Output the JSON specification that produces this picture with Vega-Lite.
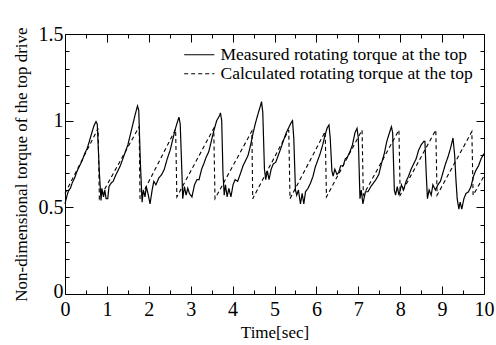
{
  "$schema": "https://vega.github.io/schema/vega-lite/v6.json",
  "width": 419,
  "height": 260,
  "autosize": "none",
  "padding": {"left": 65, "top": 34, "right": 12, "bottom": 51},
  "config": {
    "view": {"stroke": "#000", "strokeWidth": 1},
    "font": "Liberation Serif",
    "axis": {"grid": false, "domain": false, "tickColor": "#000", "labelColor": "#000", "titleColor": "#000", "labelFont": "Liberation Serif", "titleFont": "Liberation Serif", "titleFontWeight": "normal", "labelFontSize": 20, "titleFontSize": 17},
    "legend": {"labelFont": "Liberation Serif", "labelColor": "#000"}
  },
  "datasets": {
    "torque": [
      {"t": 0.00, "v": 0.52, "s": "Measured rotating torque at the top"},
      {"t": 0.05, "v": 0.57, "s": "Measured rotating torque at the top"},
      {"t": 0.09, "v": 0.60, "s": "Measured rotating torque at the top"},
      {"t": 0.13, "v": 0.61, "s": "Measured rotating torque at the top"},
      {"t": 0.17, "v": 0.64, "s": "Measured rotating torque at the top"},
      {"t": 0.23, "v": 0.67, "s": "Measured rotating torque at the top"},
      {"t": 0.29, "v": 0.71, "s": "Measured rotating torque at the top"},
      {"t": 0.35, "v": 0.74, "s": "Measured rotating torque at the top"},
      {"t": 0.41, "v": 0.77, "s": "Measured rotating torque at the top"},
      {"t": 0.47, "v": 0.81, "s": "Measured rotating torque at the top"},
      {"t": 0.53, "v": 0.84, "s": "Measured rotating torque at the top"},
      {"t": 0.58, "v": 0.88, "s": "Measured rotating torque at the top"},
      {"t": 0.64, "v": 0.93, "s": "Measured rotating torque at the top"},
      {"t": 0.69, "v": 0.97, "s": "Measured rotating torque at the top"},
      {"t": 0.74, "v": 0.995, "s": "Measured rotating torque at the top"},
      {"t": 0.77, "v": 0.98, "s": "Measured rotating torque at the top"},
      {"t": 0.82, "v": 0.70, "s": "Measured rotating torque at the top"},
      {"t": 0.86, "v": 0.54, "s": "Measured rotating torque at the top"},
      {"t": 0.88, "v": 0.61, "s": "Measured rotating torque at the top"},
      {"t": 0.92, "v": 0.56, "s": "Measured rotating torque at the top"},
      {"t": 0.95, "v": 0.60, "s": "Measured rotating torque at the top"},
      {"t": 0.98, "v": 0.55, "s": "Measured rotating torque at the top"},
      {"t": 1.02, "v": 0.55, "s": "Measured rotating torque at the top"},
      {"t": 1.05, "v": 0.62, "s": "Measured rotating torque at the top"},
      {"t": 1.10, "v": 0.64, "s": "Measured rotating torque at the top"},
      {"t": 1.15, "v": 0.65, "s": "Measured rotating torque at the top"},
      {"t": 1.20, "v": 0.68, "s": "Measured rotating torque at the top"},
      {"t": 1.26, "v": 0.71, "s": "Measured rotating torque at the top"},
      {"t": 1.32, "v": 0.74, "s": "Measured rotating torque at the top"},
      {"t": 1.38, "v": 0.78, "s": "Measured rotating torque at the top"},
      {"t": 1.44, "v": 0.82, "s": "Measured rotating torque at the top"},
      {"t": 1.50, "v": 0.86, "s": "Measured rotating torque at the top"},
      {"t": 1.56, "v": 0.92, "s": "Measured rotating torque at the top"},
      {"t": 1.62, "v": 0.98, "s": "Measured rotating torque at the top"},
      {"t": 1.68, "v": 1.04, "s": "Measured rotating torque at the top"},
      {"t": 1.73, "v": 1.085, "s": "Measured rotating torque at the top"},
      {"t": 1.76, "v": 1.06, "s": "Measured rotating torque at the top"},
      {"t": 1.80, "v": 0.75, "s": "Measured rotating torque at the top"},
      {"t": 1.84, "v": 0.53, "s": "Measured rotating torque at the top"},
      {"t": 1.87, "v": 0.60, "s": "Measured rotating torque at the top"},
      {"t": 1.91, "v": 0.56, "s": "Measured rotating torque at the top"},
      {"t": 1.94, "v": 0.62, "s": "Measured rotating torque at the top"},
      {"t": 1.98, "v": 0.58, "s": "Measured rotating torque at the top"},
      {"t": 2.03, "v": 0.52, "s": "Measured rotating torque at the top"},
      {"t": 2.08, "v": 0.60, "s": "Measured rotating torque at the top"},
      {"t": 2.12, "v": 0.65, "s": "Measured rotating torque at the top"},
      {"t": 2.17, "v": 0.63, "s": "Measured rotating torque at the top"},
      {"t": 2.24, "v": 0.67, "s": "Measured rotating torque at the top"},
      {"t": 2.31, "v": 0.69, "s": "Measured rotating torque at the top"},
      {"t": 2.37, "v": 0.72, "s": "Measured rotating torque at the top"},
      {"t": 2.44, "v": 0.78, "s": "Measured rotating torque at the top"},
      {"t": 2.51, "v": 0.83, "s": "Measured rotating torque at the top"},
      {"t": 2.57, "v": 0.89, "s": "Measured rotating torque at the top"},
      {"t": 2.63, "v": 0.95, "s": "Measured rotating torque at the top"},
      {"t": 2.68, "v": 0.99, "s": "Measured rotating torque at the top"},
      {"t": 2.72, "v": 1.02, "s": "Measured rotating torque at the top"},
      {"t": 2.75, "v": 0.98, "s": "Measured rotating torque at the top"},
      {"t": 2.79, "v": 0.70, "s": "Measured rotating torque at the top"},
      {"t": 2.81, "v": 0.55, "s": "Measured rotating torque at the top"},
      {"t": 2.85, "v": 0.62, "s": "Measured rotating torque at the top"},
      {"t": 2.89, "v": 0.57, "s": "Measured rotating torque at the top"},
      {"t": 2.93, "v": 0.61, "s": "Measured rotating torque at the top"},
      {"t": 2.97, "v": 0.58, "s": "Measured rotating torque at the top"},
      {"t": 3.03, "v": 0.56, "s": "Measured rotating torque at the top"},
      {"t": 3.09, "v": 0.63, "s": "Measured rotating torque at the top"},
      {"t": 3.15, "v": 0.66, "s": "Measured rotating torque at the top"},
      {"t": 3.20, "v": 0.66, "s": "Measured rotating torque at the top"},
      {"t": 3.26, "v": 0.72, "s": "Measured rotating torque at the top"},
      {"t": 3.31, "v": 0.75, "s": "Measured rotating torque at the top"},
      {"t": 3.37, "v": 0.79, "s": "Measured rotating torque at the top"},
      {"t": 3.43, "v": 0.82, "s": "Measured rotating torque at the top"},
      {"t": 3.49, "v": 0.88, "s": "Measured rotating torque at the top"},
      {"t": 3.55, "v": 0.94, "s": "Measured rotating torque at the top"},
      {"t": 3.62, "v": 1.00, "s": "Measured rotating torque at the top"},
      {"t": 3.69, "v": 1.03, "s": "Measured rotating torque at the top"},
      {"t": 3.71, "v": 1.045, "s": "Measured rotating torque at the top"},
      {"t": 3.74, "v": 1.00, "s": "Measured rotating torque at the top"},
      {"t": 3.77, "v": 0.70, "s": "Measured rotating torque at the top"},
      {"t": 3.80, "v": 0.57, "s": "Measured rotating torque at the top"},
      {"t": 3.83, "v": 0.63, "s": "Measured rotating torque at the top"},
      {"t": 3.87, "v": 0.56, "s": "Measured rotating torque at the top"},
      {"t": 3.91, "v": 0.61, "s": "Measured rotating torque at the top"},
      {"t": 3.96, "v": 0.56, "s": "Measured rotating torque at the top"},
      {"t": 4.01, "v": 0.63, "s": "Measured rotating torque at the top"},
      {"t": 4.06, "v": 0.66, "s": "Measured rotating torque at the top"},
      {"t": 4.12, "v": 0.65, "s": "Measured rotating torque at the top"},
      {"t": 4.18, "v": 0.69, "s": "Measured rotating torque at the top"},
      {"t": 4.25, "v": 0.74, "s": "Measured rotating torque at the top"},
      {"t": 4.31, "v": 0.77, "s": "Measured rotating torque at the top"},
      {"t": 4.37, "v": 0.80, "s": "Measured rotating torque at the top"},
      {"t": 4.43, "v": 0.86, "s": "Measured rotating torque at the top"},
      {"t": 4.49, "v": 0.93, "s": "Measured rotating torque at the top"},
      {"t": 4.55, "v": 0.99, "s": "Measured rotating torque at the top"},
      {"t": 4.62, "v": 1.05, "s": "Measured rotating torque at the top"},
      {"t": 4.67, "v": 1.09, "s": "Measured rotating torque at the top"},
      {"t": 4.69, "v": 1.11, "s": "Measured rotating torque at the top"},
      {"t": 4.72, "v": 1.05, "s": "Measured rotating torque at the top"},
      {"t": 4.76, "v": 0.72, "s": "Measured rotating torque at the top"},
      {"t": 4.79, "v": 0.66, "s": "Measured rotating torque at the top"},
      {"t": 4.83, "v": 0.71, "s": "Measured rotating torque at the top"},
      {"t": 4.87, "v": 0.66, "s": "Measured rotating torque at the top"},
      {"t": 4.92, "v": 0.72, "s": "Measured rotating torque at the top"},
      {"t": 4.97, "v": 0.75, "s": "Measured rotating torque at the top"},
      {"t": 5.03, "v": 0.76, "s": "Measured rotating torque at the top"},
      {"t": 5.09, "v": 0.80, "s": "Measured rotating torque at the top"},
      {"t": 5.15, "v": 0.84, "s": "Measured rotating torque at the top"},
      {"t": 5.22, "v": 0.89, "s": "Measured rotating torque at the top"},
      {"t": 5.28, "v": 0.93, "s": "Measured rotating torque at the top"},
      {"t": 5.34, "v": 0.96, "s": "Measured rotating torque at the top"},
      {"t": 5.40, "v": 0.99, "s": "Measured rotating torque at the top"},
      {"t": 5.43, "v": 1.00, "s": "Measured rotating torque at the top"},
      {"t": 5.46, "v": 0.90, "s": "Measured rotating torque at the top"},
      {"t": 5.50, "v": 0.60, "s": "Measured rotating torque at the top"},
      {"t": 5.53, "v": 0.57, "s": "Measured rotating torque at the top"},
      {"t": 5.57, "v": 0.60, "s": "Measured rotating torque at the top"},
      {"t": 5.62, "v": 0.52, "s": "Measured rotating torque at the top"},
      {"t": 5.66, "v": 0.58, "s": "Measured rotating torque at the top"},
      {"t": 5.70, "v": 0.52, "s": "Measured rotating torque at the top"},
      {"t": 5.74, "v": 0.59, "s": "Measured rotating torque at the top"},
      {"t": 5.80, "v": 0.61, "s": "Measured rotating torque at the top"},
      {"t": 5.86, "v": 0.64, "s": "Measured rotating torque at the top"},
      {"t": 5.92, "v": 0.68, "s": "Measured rotating torque at the top"},
      {"t": 5.97, "v": 0.73, "s": "Measured rotating torque at the top"},
      {"t": 6.03, "v": 0.77, "s": "Measured rotating torque at the top"},
      {"t": 6.09, "v": 0.81, "s": "Measured rotating torque at the top"},
      {"t": 6.15, "v": 0.86, "s": "Measured rotating torque at the top"},
      {"t": 6.21, "v": 0.92, "s": "Measured rotating torque at the top"},
      {"t": 6.26, "v": 0.96, "s": "Measured rotating torque at the top"},
      {"t": 6.30, "v": 0.975, "s": "Measured rotating torque at the top"},
      {"t": 6.33, "v": 0.90, "s": "Measured rotating torque at the top"},
      {"t": 6.37, "v": 0.71, "s": "Measured rotating torque at the top"},
      {"t": 6.40, "v": 0.68, "s": "Measured rotating torque at the top"},
      {"t": 6.44, "v": 0.72, "s": "Measured rotating torque at the top"},
      {"t": 6.49, "v": 0.69, "s": "Measured rotating torque at the top"},
      {"t": 6.53, "v": 0.70, "s": "Measured rotating torque at the top"},
      {"t": 6.58, "v": 0.74, "s": "Measured rotating torque at the top"},
      {"t": 6.64, "v": 0.74, "s": "Measured rotating torque at the top"},
      {"t": 6.69, "v": 0.78, "s": "Measured rotating torque at the top"},
      {"t": 6.74, "v": 0.79, "s": "Measured rotating torque at the top"},
      {"t": 6.80, "v": 0.82, "s": "Measured rotating torque at the top"},
      {"t": 6.86, "v": 0.86, "s": "Measured rotating torque at the top"},
      {"t": 6.92, "v": 0.93, "s": "Measured rotating torque at the top"},
      {"t": 6.97, "v": 0.956, "s": "Measured rotating torque at the top"},
      {"t": 7.00, "v": 0.90, "s": "Measured rotating torque at the top"},
      {"t": 7.04, "v": 0.55, "s": "Measured rotating torque at the top"},
      {"t": 7.07, "v": 0.60, "s": "Measured rotating torque at the top"},
      {"t": 7.11, "v": 0.52, "s": "Measured rotating torque at the top"},
      {"t": 7.17, "v": 0.59, "s": "Measured rotating torque at the top"},
      {"t": 7.23, "v": 0.59, "s": "Measured rotating torque at the top"},
      {"t": 7.30, "v": 0.62, "s": "Measured rotating torque at the top"},
      {"t": 7.36, "v": 0.64, "s": "Measured rotating torque at the top"},
      {"t": 7.42, "v": 0.66, "s": "Measured rotating torque at the top"},
      {"t": 7.49, "v": 0.69, "s": "Measured rotating torque at the top"},
      {"t": 7.55, "v": 0.75, "s": "Measured rotating torque at the top"},
      {"t": 7.62, "v": 0.81, "s": "Measured rotating torque at the top"},
      {"t": 7.68, "v": 0.88, "s": "Measured rotating torque at the top"},
      {"t": 7.73, "v": 0.92, "s": "Measured rotating torque at the top"},
      {"t": 7.79, "v": 0.965, "s": "Measured rotating torque at the top"},
      {"t": 7.82, "v": 0.93, "s": "Measured rotating torque at the top"},
      {"t": 7.86, "v": 0.60, "s": "Measured rotating torque at the top"},
      {"t": 7.89, "v": 0.57, "s": "Measured rotating torque at the top"},
      {"t": 7.93, "v": 0.62, "s": "Measured rotating torque at the top"},
      {"t": 7.97, "v": 0.57, "s": "Measured rotating torque at the top"},
      {"t": 8.03, "v": 0.63, "s": "Measured rotating torque at the top"},
      {"t": 8.08, "v": 0.60, "s": "Measured rotating torque at the top"},
      {"t": 8.14, "v": 0.65, "s": "Measured rotating torque at the top"},
      {"t": 8.20, "v": 0.68, "s": "Measured rotating torque at the top"},
      {"t": 8.26, "v": 0.72, "s": "Measured rotating torque at the top"},
      {"t": 8.32, "v": 0.75, "s": "Measured rotating torque at the top"},
      {"t": 8.38, "v": 0.78, "s": "Measured rotating torque at the top"},
      {"t": 8.44, "v": 0.83, "s": "Measured rotating torque at the top"},
      {"t": 8.50, "v": 0.86, "s": "Measured rotating torque at the top"},
      {"t": 8.56, "v": 0.88, "s": "Measured rotating torque at the top"},
      {"t": 8.59, "v": 0.88, "s": "Measured rotating torque at the top"},
      {"t": 8.62, "v": 0.70, "s": "Measured rotating torque at the top"},
      {"t": 8.65, "v": 0.55, "s": "Measured rotating torque at the top"},
      {"t": 8.69, "v": 0.60, "s": "Measured rotating torque at the top"},
      {"t": 8.74, "v": 0.57, "s": "Measured rotating torque at the top"},
      {"t": 8.78, "v": 0.63, "s": "Measured rotating torque at the top"},
      {"t": 8.84, "v": 0.60, "s": "Measured rotating torque at the top"},
      {"t": 8.90, "v": 0.63, "s": "Measured rotating torque at the top"},
      {"t": 8.96, "v": 0.65, "s": "Measured rotating torque at the top"},
      {"t": 9.02, "v": 0.70, "s": "Measured rotating torque at the top"},
      {"t": 9.08, "v": 0.75, "s": "Measured rotating torque at the top"},
      {"t": 9.14, "v": 0.79, "s": "Measured rotating torque at the top"},
      {"t": 9.20, "v": 0.84, "s": "Measured rotating torque at the top"},
      {"t": 9.26, "v": 0.90, "s": "Measured rotating torque at the top"},
      {"t": 9.30, "v": 0.80, "s": "Measured rotating torque at the top"},
      {"t": 9.33, "v": 0.66, "s": "Measured rotating torque at the top"},
      {"t": 9.36, "v": 0.55, "s": "Measured rotating torque at the top"},
      {"t": 9.40, "v": 0.49, "s": "Measured rotating torque at the top"},
      {"t": 9.43, "v": 0.53, "s": "Measured rotating torque at the top"},
      {"t": 9.47, "v": 0.49, "s": "Measured rotating torque at the top"},
      {"t": 9.52, "v": 0.55, "s": "Measured rotating torque at the top"},
      {"t": 9.57, "v": 0.58, "s": "Measured rotating torque at the top"},
      {"t": 9.63, "v": 0.59, "s": "Measured rotating torque at the top"},
      {"t": 9.69, "v": 0.62, "s": "Measured rotating torque at the top"},
      {"t": 9.75, "v": 0.68, "s": "Measured rotating torque at the top"},
      {"t": 9.80, "v": 0.71, "s": "Measured rotating torque at the top"},
      {"t": 9.87, "v": 0.74, "s": "Measured rotating torque at the top"},
      {"t": 9.93, "v": 0.78, "s": "Measured rotating torque at the top"},
      {"t": 10.0, "v": 0.81, "s": "Measured rotating torque at the top"},
      {"t": 0.00, "v": 0.58, "s": "Calculated rotating torque at the top"},
      {"t": 0.79, "v": 0.955, "s": "Calculated rotating torque at the top"},
      {"t": 0.82, "v": 0.55, "s": "Calculated rotating torque at the top"},
      {"t": 1.77, "v": 0.965, "s": "Calculated rotating torque at the top"},
      {"t": 1.79, "v": 0.55, "s": "Calculated rotating torque at the top"},
      {"t": 2.64, "v": 0.95, "s": "Calculated rotating torque at the top"},
      {"t": 2.67, "v": 0.56, "s": "Calculated rotating torque at the top"},
      {"t": 3.55, "v": 0.956, "s": "Calculated rotating torque at the top"},
      {"t": 3.58, "v": 0.55, "s": "Calculated rotating torque at the top"},
      {"t": 4.46, "v": 0.94, "s": "Calculated rotating torque at the top"},
      {"t": 4.48, "v": 0.55, "s": "Calculated rotating torque at the top"},
      {"t": 5.34, "v": 0.946, "s": "Calculated rotating torque at the top"},
      {"t": 5.37, "v": 0.55, "s": "Calculated rotating torque at the top"},
      {"t": 6.21, "v": 0.937, "s": "Calculated rotating torque at the top"},
      {"t": 6.24, "v": 0.56, "s": "Calculated rotating torque at the top"},
      {"t": 7.09, "v": 0.946, "s": "Calculated rotating torque at the top"},
      {"t": 7.12, "v": 0.57, "s": "Calculated rotating torque at the top"},
      {"t": 7.97, "v": 0.946, "s": "Calculated rotating torque at the top"},
      {"t": 8.00, "v": 0.57, "s": "Calculated rotating torque at the top"},
      {"t": 8.85, "v": 0.946, "s": "Calculated rotating torque at the top"},
      {"t": 8.88, "v": 0.57, "s": "Calculated rotating torque at the top"},
      {"t": 9.71, "v": 0.937, "s": "Calculated rotating torque at the top"},
      {"t": 9.74, "v": 0.57, "s": "Calculated rotating torque at the top"},
      {"t": 10.0, "v": 0.68, "s": "Calculated rotating torque at the top"}
    ]
  },
  "data": {"name": "torque"},
  "layer": [
    {
      "transform": [{"filter": "datum.s === 'Measured rotating torque at the top'"}],
      "mark": {"type": "line", "color": "#000", "strokeWidth": 1.2},
      "encoding": {
        "x": {"field": "t", "type": "quantitative", "scale": {"domain": [0, 10], "nice": false},
          "axis": {"orient": "bottom", "title": "Time[sec]", "titleFontWeight": "normal", "titleFontSize": 17, "values": [0,0.5,1,1.5,2,2.5,3,3.5,4,4.5,5,5.5,6,6.5,7,7.5,8,8.5,9,9.5,10],
            "tickSize": {"condition": {"test": "datum.value % 1 !== 0", "value": -4}, "value": -8},
            "labelExpr": "datum.value % 1 === 0 ? format(datum.value, '~g') : ''", "labelPadding": 13, "labelFlush": false, "labelOverlap": false, "titlePadding": 1}},
        "y": {"field": "v", "type": "quantitative", "scale": {"domain": [0, 1.5], "nice": false, "zero": false},
          "axis": {"orient": "left", "title": "Non-dimensional torque of the top drive", "titleFontWeight": "normal", "titleFontSize": 17, "values": [0,0.1,0.2,0.3,0.4,0.5,0.6,0.7,0.8,0.9,1,1.1,1.2,1.3,1.4,1.5],
            "tickSize": {"condition": {"test": "(datum.value * 2) % 1 !== 0", "value": -4}, "value": -8},
            "labelOffset": {"condition": {"test": "datum.value === 0", "value": -3}, "value": 0},
            "labelExpr": "(datum.value * 2) % 1 === 0 ? format(datum.value, '~g') : ''", "labelPadding": 10, "labelFlush": false, "labelOverlap": false, "titlePadding": 8}},
        "strokeDash": {"field": "s", "type": "nominal",
          "scale": {"domain": ["Measured rotating torque at the top", "Calculated rotating torque at the top"], "range": [[1, 0], [4, 3]]},
          "legend": {"title": null, "orient": "none", "legendX": 125.5, "legendY": 12, "symbolType": "M-3.6,0H3.6", "symbolSize": 70, "symbolStrokeWidth": 1.2, "symbolStrokeColor": "#000", "symbolFillColor": "transparent", "labelFontSize": 17.5, "labelOffset": 12.5, "rowPadding": 0, "padding": 0, "labelLimit": 400}}
      }
    },
    {
      "transform": [{"filter": "datum.s === 'Calculated rotating torque at the top'"}],
      "mark": {"type": "line", "color": "#000", "strokeWidth": 1.1},
      "encoding": {
        "x": {"field": "t", "type": "quantitative",
          "axis": {"orient": "top", "title": null, "labels": false, "values": [0,0.5,1,1.5,2,2.5,3,3.5,4,4.5,5,5.5,6,6.5,7,7.5,8,8.5,9,9.5,10],
            "tickSize": {"condition": {"test": "datum.value % 1 !== 0", "value": -4}, "value": -8}}},
        "y": {"field": "v", "type": "quantitative",
          "axis": {"orient": "right", "title": null, "labels": false, "values": [0,0.1,0.2,0.3,0.4,0.5,0.6,0.7,0.8,0.9,1,1.1,1.2,1.3,1.4,1.5],
            "tickSize": {"condition": {"test": "(datum.value * 2) % 1 !== 0", "value": -4}, "value": -8}}},
        "strokeDash": {"field": "s", "type": "nominal"}
      }
    }
  ],
  "resolve": {"axis": {"x": "independent", "y": "independent"}}
}
